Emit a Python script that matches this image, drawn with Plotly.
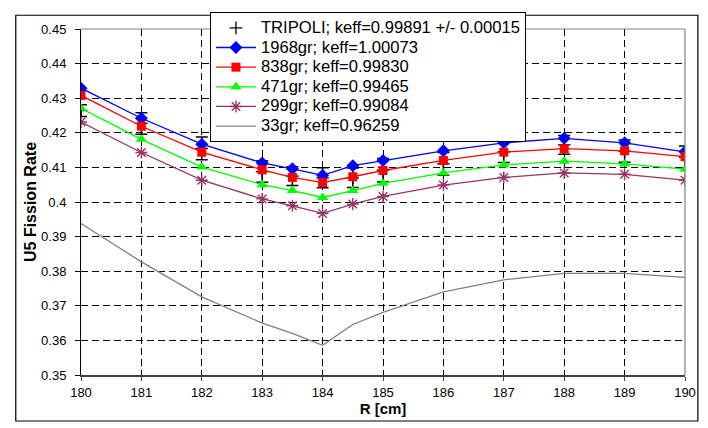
import plotly.graph_objects as go

R = [180, 181, 182, 183, 183.5, 184, 184.5, 185, 186, 187, 188, 189, 190]

tripoli = [0.4264, 0.4227, 0.4155, 0.4088, 0.4075, 0.4070, 0.4070, 0.4092, 0.4110, 0.4145, 0.4165, 0.4147, 0.4130]
tripoli_err = [0.0017, 0.0031, 0.0033, 0.0031, 0.0027, 0.0029, 0.0028, 0.0034, 0.0033, 0.0031, 0.0027, 0.0032, 0.0032]
g1968 = [0.4329, 0.4242, 0.4167, 0.4113, 0.4096, 0.4077, 0.4105, 0.4120, 0.4148, 0.4171, 0.4184, 0.4171, 0.4145]
g838 = [0.4308, 0.4219, 0.4144, 0.4093, 0.4071, 0.4056, 0.4073, 0.4091, 0.4120, 0.4144, 0.4154, 0.4148, 0.4131]
g471 = [0.4271, 0.4181, 0.4101, 0.4050, 0.4033, 0.4013, 0.4033, 0.4054, 0.4084, 0.4107, 0.4118, 0.4110, 0.4095]
g299 = [0.4231, 0.4143, 0.4063, 0.4009, 0.3989, 0.3967, 0.3994, 0.4016, 0.4049, 0.4071, 0.4084, 0.4080, 0.4063]
g33 = [0.3938, 0.3827, 0.3726, 0.3650, 0.3620, 0.3586, 0.3646, 0.3681, 0.3740, 0.3775, 0.3794, 0.3794, 0.3782]

names = [
    "TRIPOLI; keff=0.99891 +/- 0.00015",
    "1968gr; keff=1.00073",
    "838gr; keff=0.99830",
    "471gr; keff=0.99465",
    "299gr; keff=0.99084",
    "33gr; keff=0.96259",
]

x_ticks = [180, 181, 182, 183, 184, 185, 186, 187, 188, 189, 190]
x_ticktext = ["180", "181", "182", "183", "184", "185", "186", "187", "188", "189", "190"]
y_ticks = [0.35, 0.36, 0.37, 0.38, 0.39, 0.40, 0.41, 0.42, 0.43, 0.44, 0.45]
y_ticktext = ["0.35", "0.36", "0.37", "0.38", "0.39", "0.4", "0.41", "0.42", "0.43", "0.44", "0.45"]

FONT = "Arial, Liberation Sans, sans-serif"


def lg(name):
    return '<span style="font-size:16.6px">' + name + '</span>'


fig = go.Figure()

fig.add_trace(go.Scatter(
    x=R, y=tripoli, mode="markers", name=lg(names[0]),
    marker=dict(symbol="cross-thin", size=9, color="black", line=dict(color="black", width=1.3)),
    error_y=dict(type="data", array=tripoli_err, visible=True, color="black", thickness=1.5, width=6),
))
fig.add_trace(go.Scatter(
    x=R, y=g1968, mode="lines+markers", name=lg(names[1]),
    line=dict(color="#0000FF", width=1.3),
    marker=dict(symbol="diamond", size=10, color="#0000FF"),
))
fig.add_trace(go.Scatter(
    x=R, y=g838, mode="lines+markers", name=lg(names[2]),
    line=dict(color="#FF0000", width=1.3),
    marker=dict(symbol="square", size=9, color="#FF0000"),
))
fig.add_trace(go.Scatter(
    x=R, y=g471, mode="lines+markers", name=lg(names[3]),
    line=dict(color="#00FF00", width=1.3),
    marker=dict(symbol="triangle-up", size=10, color="#00FF00"),
))
fig.add_trace(go.Scatter(
    x=R, y=g299, mode="lines+markers", name=lg(names[4]),
    line=dict(color="#993366", width=1.3),
    marker=dict(symbol="asterisk-open", size=10, color="#993366", line=dict(color="#993366", width=1.4)),
))
fig.add_trace(go.Scatter(
    x=R, y=g33, mode="lines", name=lg(names[5]),
    line=dict(color="#808080", width=1.3),
))

# outer chart frame
fig.add_shape(type="rect", xref="paper", yref="paper",
              x0=-0.108, x1=1.0213, y0=-0.133, y1=1.0397,
              line=dict(color="black", width=1.2), layer="below")
# top and right plot border (gray)
fig.add_shape(type="line", xref="paper", yref="paper", x0=0, x1=1, y0=1, y1=1,
              line=dict(color="#808080", width=1.2))
fig.add_shape(type="line", xref="paper", yref="paper", x0=1, x1=1, y0=0, y1=1,
              line=dict(color="#808080", width=1.2))

fig.update_layout(
    width=708, height=428,
    margin=dict(l=81, r=18, t=22, b=53),
    paper_bgcolor="white", plot_bgcolor="white",
    font=dict(family=FONT, size=13, color="black"),
    showlegend=True,
    legend=dict(
        x=0.2135, y=1.049, xanchor="left", yanchor="top",
        bgcolor="white", bordercolor="black", borderwidth=1,
        font=dict(family=FONT, size=12.8, color="black"),
        itemwidth=40, tracegroupgap=0,
    ),
    xaxis=dict(
        range=[180, 190], tickvals=x_ticks, ticktext=x_ticktext,
        showgrid=True, gridcolor="black", gridwidth=1, griddash="7px,4px",
        showline=True, linecolor="#404040", linewidth=2,
        ticks="outside", ticklen=4, tickcolor="#404040",
        zeroline=False,
        title=dict(text="<b>R [cm]</b>", font=dict(family=FONT, size=15), standoff=4),
        tickfont=dict(family=FONT, size=13),
    ),
    yaxis=dict(
        range=[0.35, 0.45], tickvals=y_ticks, ticktext=y_ticktext,
        showgrid=True, gridcolor="black", gridwidth=1, griddash="7px,4px",
        showline=True, linecolor="black", linewidth=1,
        ticks="outside", ticklen=5, tickcolor="black",
        ticklabelstandoff=6,
        zeroline=False,
        title=dict(text="<b>U5 Fission Rate</b>", font=dict(family=FONT, size=16), standoff=0),
        tickfont=dict(family=FONT, size=13),
    ),
)

fig.write_html("out.html")
